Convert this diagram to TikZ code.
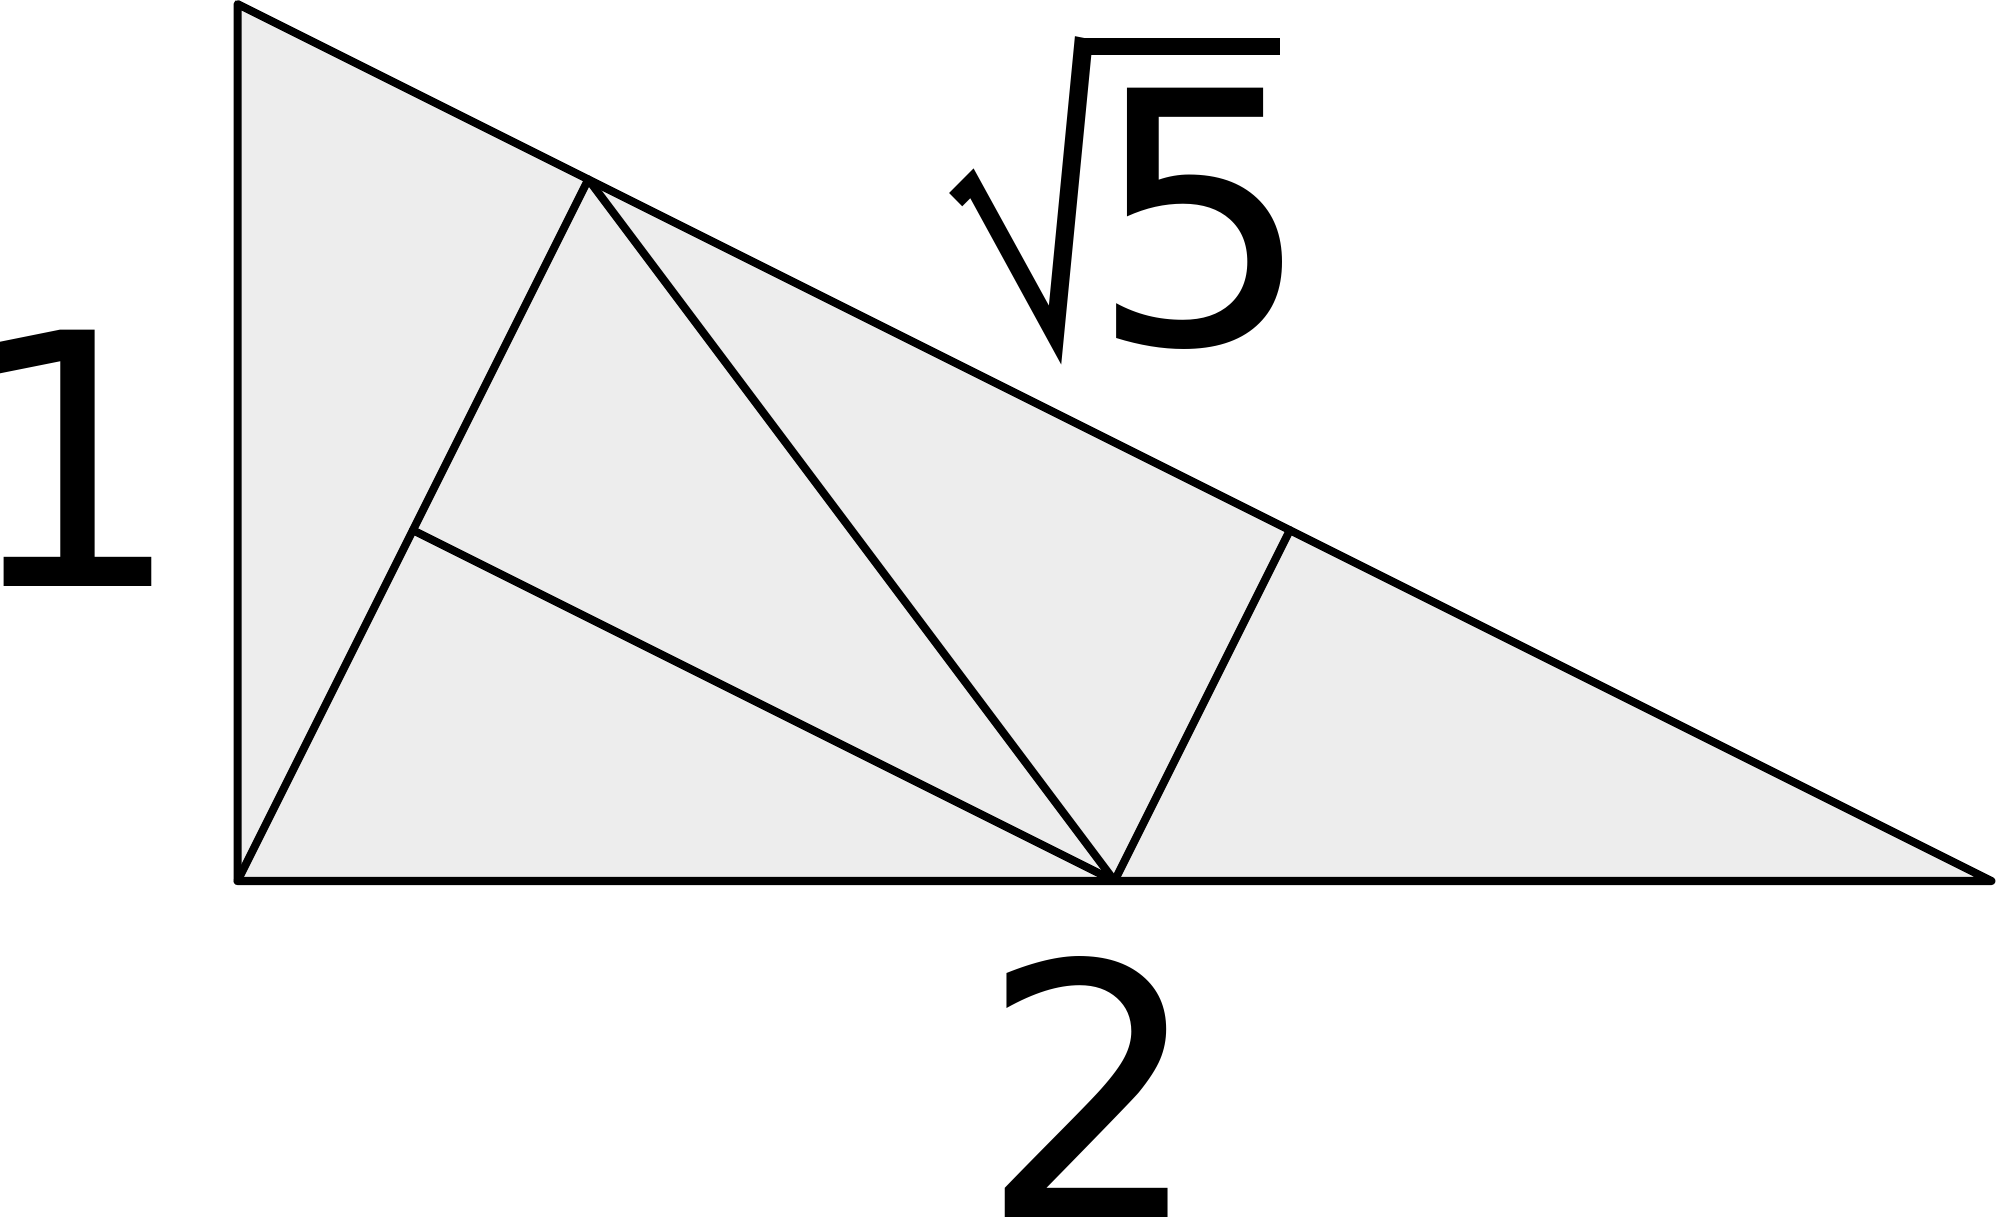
\documentclass[tikz,border=0pt]{standalone}
\usepackage{fontspec}
\setmainfont{DejaVu Sans}
\newfontfamily\radfont{TeX Gyre Heros}
\definecolor{fillgray}{RGB}{237,237,237}
\begin{document}
\begin{tikzpicture}[x=0.01cm,y=-0.01cm,
  edge/.style={draw=black,line width=0.08cm,line cap=round,line join=round},
  lbl/.style={inner sep=0pt,outer sep=0pt,anchor=base west,font=\fontsize{100}{120}\selectfont}]
\useasboundingbox (0,0) rectangle (2000,1219);
\coordinate (A) at (237.5,4);
\coordinate (B) at (237.5,881);
\coordinate (C) at (1991.5,881);
\coordinate (P) at (588.3,179.4);
\coordinate (F) at (412.9,530.2);
\coordinate (E) at (1114.5,881);
\coordinate (D) at (1289.9,530.2);
\path[fill=fillgray] (A) -- (B) -- (C) -- cycle;
\draw[edge] (B) -- (P);
\draw[edge] (P) -- (E);
\draw[edge] (F) -- (E);
\draw[edge] (D) -- (E);
\draw[edge] (A) -- (B) -- (C) -- cycle;
\node[lbl] (one) at (-39.4,586.7) {1};
\node[lbl] (two) at (979,1217) {2};
\begin{scope}[shift={(1061,365)},xslant=-0.09]
  \node[lbl,transform shape,font=\fontsize{100}{120}\radfont] (rad) at (-114.3,-17.4) {√};
\end{scope}
\node[lbl] (five) at (1089.5,344.5) {5};
\fill (1078,37.7) rectangle (1280,55);
\end{tikzpicture}
\end{document}
